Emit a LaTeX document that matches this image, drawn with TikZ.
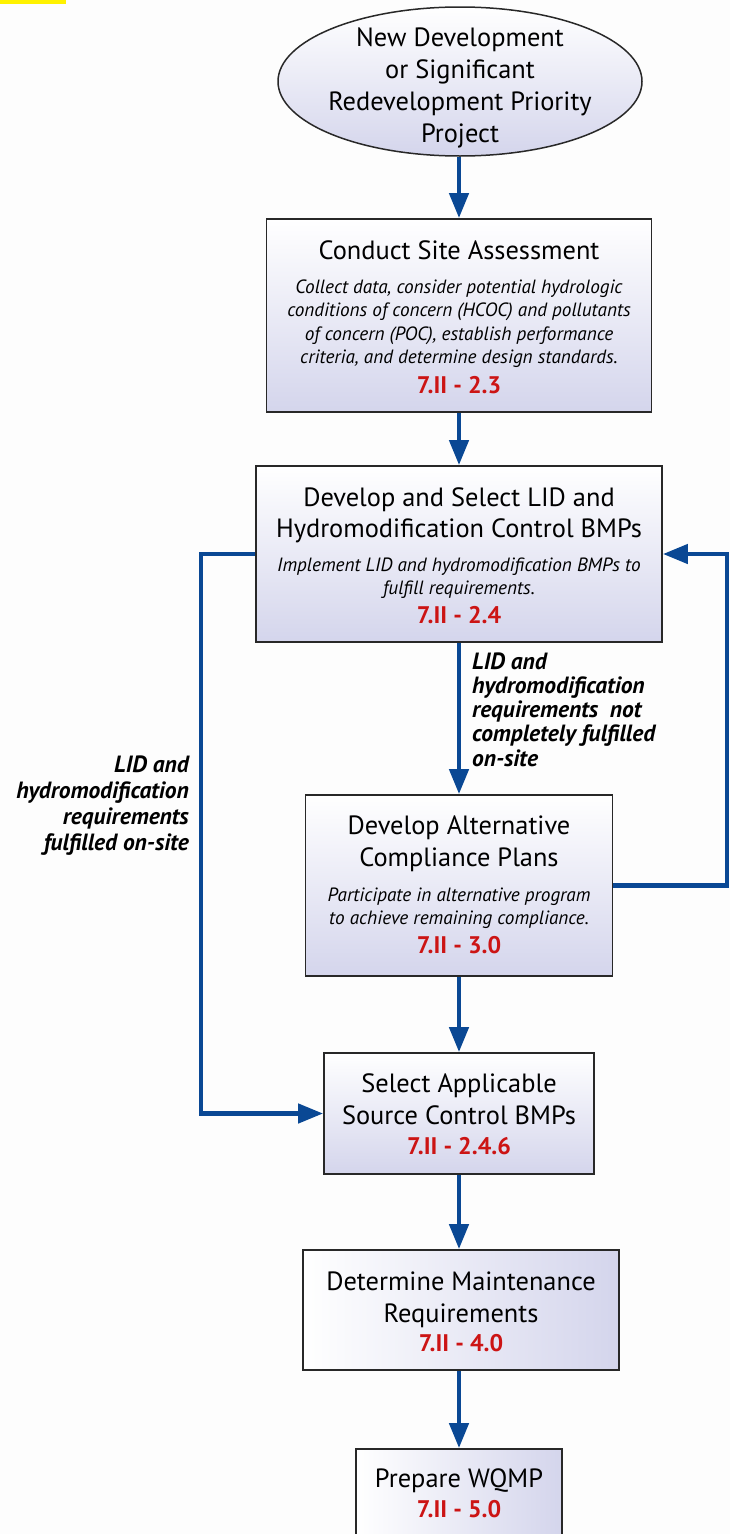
\documentclass[tikz,border=0pt]{standalone}
\usepackage{fontspec}
\setmainfont{PT Sans}
\usetikzlibrary{arrows.meta,shapes.geometric,calc}
\definecolor{arrblue}{RGB}{10,72,148}
\definecolor{lav}{RGB}{212,213,236}
\definecolor{refred}{RGB}{204,20,20}
\definecolor{edgegray}{RGB}{40,40,40}
\definecolor{bgc}{RGB}{253,253,253}
\tikzset{
  box/.style={draw=edgegray,line width=1.8pt,rectangle,top color=white,bottom color=lav,inner sep=0pt},
  hbox/.style={draw=edgegray,line width=1.8pt,rectangle,left color=white,right color=lav,inner sep=0pt},
  arr/.style={draw=arrblue,line width=4.5pt,-{Triangle[width=19pt,length=25pt]}},
  ttl/.style={font=\fontsize{26.4}{30}\selectfont,anchor=base,inner sep=0pt},
  dsc/.style={font=\fontsize{19.2}{23}\selectfont\itshape,anchor=base,inner sep=0pt},
  refno/.style={font=\fontsize{24}{26}\selectfont\bfseries,text=refred,anchor=base,inner sep=0pt},
  lbl/.style={font=\fontsize{23.5}{25}\selectfont\bfseries\itshape,inner sep=0pt},
}
\begin{document}
\begin{tikzpicture}[x=1pt,y=-1pt]
\useasboundingbox (0,0) rectangle (730,1534);
\fill[bgc] (0,0) rectangle (730,1534);
\fill[yellow] (0,0) rectangle (66,4);

% ellipse
\node[ellipse,draw=edgegray,line width=1.5pt,top color=white,bottom color=lav,
      minimum width=364pt,minimum height=149pt,inner sep=0pt] (ell) at (460,81.5) {};
\foreach \t [count=\i] in {New Development,or Significant,Redevelopment Priority,Project}
  \node[ttl] (et\i) at (460,{46+32.3*(\i-1)}) {\t};

% box 1
\node[box,minimum width=385pt,minimum height=193pt] (b1) at (459,315.5) {};
\node[ttl] (b1t) at (459,259) {Conduct Site Assessment};
\foreach \t [count=\i] in {{Collect data, consider potential hydrologic},{conditions of concern (HCOC) and pollutants},{of concern (POC), establish performance},{criteria, and determine design standards.}}
  \node[dsc] (b1d\i) at (459,{293+23.5*(\i-1)}) {\t};
\node[refno] (b1r) at (459,393) {7.II - 2.3};

% box 2
\node[box,minimum width=406pt,minimum height=176pt] (b2) at (459,554) {};
\node[ttl] (b2t1) at (459,506) {Develop and Select LID and};
\node[ttl] (b2t2) at (459,537) {Hydromodification Control BMPs};
\node[dsc] (b2d1) at (459,571) {Implement LID and hydromodification BMPs to};
\node[dsc] (b2d2) at (459,594) {fulfill requirements.};
\node[refno] (b2r) at (459,623) {7.II - 2.4};

% box 3
\node[box,minimum width=307pt,minimum height=181pt] (b3) at (459,885.5) {};
\node[ttl] (b3t1) at (459,834) {Develop Alternative};
\node[ttl] (b3t2) at (459,866) {Compliance Plans};
\node[dsc] (b3d1) at (459,901) {Participate in alternative program};
\node[dsc] (b3d2) at (459,924) {to achieve remaining compliance.};
\node[refno] (b3r) at (459,953) {7.II - 3.0};

% box 4
\node[box,minimum width=270pt,minimum height=121pt] (b4) at (459,1113.5) {};
\node[ttl] (b4t1) at (459,1092) {Select Applicable};
\node[ttl] (b4t2) at (459,1124) {Source Control BMPs};
\node[refno] (b4r) at (459,1154) {7.II - 2.4.6};

% box 5
\node[hbox,minimum width=316pt,minimum height=120pt] (b5) at (461,1310) {};
\node[ttl] (b5t1) at (461,1290) {Determine Maintenance};
\node[ttl] (b5t2) at (461,1322) {Requirements};
\node[refno] (b5r) at (461,1351) {7.II - 4.0};

% box 6
\node[hbox,minimum width=206pt,minimum height=112pt] (b6) at (459,1505) {};
\node[ttl] (b6t1) at (459,1487) {Prepare WQMP};
\node[refno] (b6r) at (459,1517) {7.II - 5.0};

% connectors
\coordinate (lft) at (201,0);
\coordinate (rgt) at (727,0);
\draw[arr] (ell.south -| b1.north) -- (b1.north);
\draw[arr] (b1.south) -- (b2.north);
\draw[arr] (b2.south) -- (b3.north);
\draw[arr] (b3.south) -- (b4.north);
\draw[arr] (b4.south) -- (b4.south |- b5.north);
\draw[arr] (b4.south |- b5.south) -- (b6.north);
\draw[arr] (b2.west) -- (b2.west -| lft) |- (b4.west);
\draw[arr] (b3.east) -- (b3.east -| rgt) |- (b2.east);

% labels
\foreach \t [count=\i] in {LID and,hydromodification,requirements,fulfilled on-site}
  \node[lbl,anchor=base east] (ll\i) at (189,{772+26.3*(\i-1)}) {\t};
\foreach \t [count=\i] in {LID and,hydromodification,requirements\ \ not,completely fulfilled,on-site}
  \node[lbl,anchor=base west] (rl\i) at (472,{669+24.3*(\i-1)}) {\t};
\end{tikzpicture}
\end{document}
